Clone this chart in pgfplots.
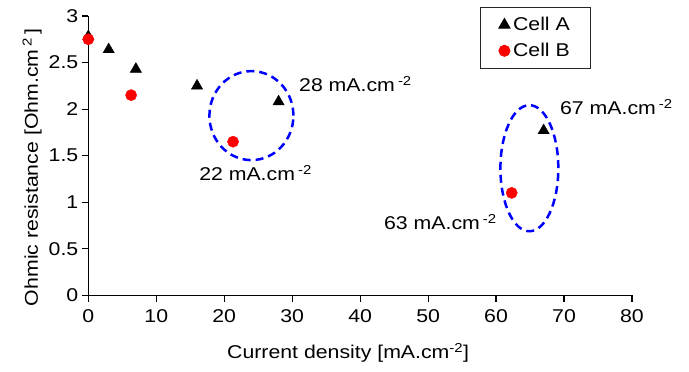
\documentclass[border=0pt]{standalone}
\usepackage{pgfplots}
\pgfplotsset{compat=1.18}
\usepackage{fontspec}
\setmainfont{Liberation Sans}[FakeStretch=1.15]
\newcommand{\lf}{\fontsize{18.5bp}{22bp}\selectfont}
\begin{document}
\begin{tikzpicture}[font=\lf]
\path[use as bounding box] (-88.3bp,-76.7bp) rectangle (600.7bp,295.3bp);
\begin{axis}[
  at={(0,0)}, anchor=south west,
  scale only axis, width=543.7bp, height=279.3bp,
  xmin=0, xmax=80, ymin=0, ymax=3,
  axis x line*=bottom, axis y line*=left,
  axis line style={-, line width=1.2bp, black},
  xtick={0,10,...,80}, ytick={0,0.5,...,3},
  tick align=outside, major tick length=6.5bp,
  tick style={line width=1.2bp, black},
  /pgf/number format/assume math mode=true,
  xticklabel style={yshift=-4bp},
  clip=false,
  xlabel={Current density [mA.cm\textsuperscript{-2}]},
  ylabel={Ohmic resistance [Ohm.cm\,\textsuperscript{2}\,]},
  xlabel style={at={(axis description cs:0.478,-0.207)}, anchor=center},
  ylabel style={at={(axis description cs:-0.1035,0.458)}, anchor=center},
  legend style={at={(0.925,1.032)}, anchor=north east, draw=black!85, line width=0.8bp,
    inner xsep=18bp, inner ysep=8bp, row sep=7bp, fill=white,
    nodes={inner xsep=3bp}, font=\lf},
  legend cell align=left,
  legend image code/.code={\draw[mark repeat=2,mark phase=2,#1] plot coordinates {(0bp,0bp)(12bp,0bp)(24bp,0bp)};},
]
\addplot[only marks, mark=triangle*, mark size=6.5bp, black, mark options={fill=black, draw=black}]
  coordinates {(0,2.78) (3,2.64) (7,2.43) (16,2.25) (28,2.08) (67,1.77)};
\addlegendentry{Cell A}
\addplot[only marks, mark=*, mark size=5.6bp, red, mark options={fill=red, draw=red}]
  coordinates {(0,2.75) (6.3,2.15) (21.3,1.65) (62.3,1.10)};
\addlegendentry{Cell B}
\draw[blue, line width=2.5bp, dash pattern=on 8bp off 5bp] (axis cs:24.0,1.93) ellipse [x radius=6.18, y radius=0.478];
\draw[blue, line width=2.5bp, dash pattern=on 8bp off 5bp] (axis cs:64.9,1.365) ellipse [x radius=4.26, y radius=0.677];
\node[anchor=base west, inner sep=0] at (axis cs:31.0,2.185) {28 mA.cm\,\textsuperscript{-2}};
\node[anchor=base west, inner sep=0] at (axis cs:16.3,1.232) {22 mA.cm\,\textsuperscript{-2}};
\node[anchor=base west, inner sep=0] at (axis cs:69.4,1.939) {67 mA.cm\,\textsuperscript{-2}};
\node[anchor=base west, inner sep=0] at (axis cs:43.5,0.702) {63 mA.cm\,\textsuperscript{-2}};
\end{axis}
\end{tikzpicture}
\end{document}
